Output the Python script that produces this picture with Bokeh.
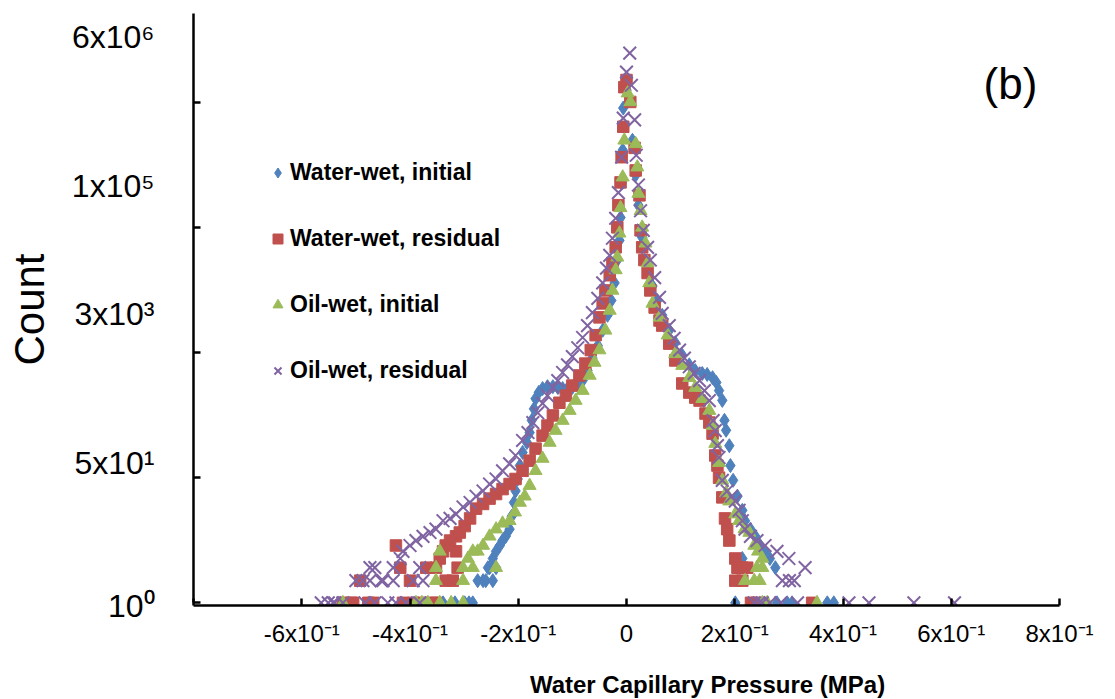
from bokeh.plotting import figure
from bokeh.models import (Range1d, FixedTicker, Legend, LegendItem, Label, LogAxis, LogScale)
from bokeh.embed import file_html
from bokeh.resources import INLINE

# ---------------- data ----------------
SERIES_NAMES = ["Water-wet, initial", "Water-wet, residual", "Oil-wet, initial", "Oil-wet, residual"]
SERIES_COLORS = ["#4F81BD", "#C0504D", "#9BBB59", "#8064A2"]

# Water-wet, initial
WW_INIT_X = [-0.339, -0.317, -0.299, -0.291, -0.284, -0.275, -0.265, -0.260, -0.256, -0.253,
             -0.247, -0.247, -0.241, -0.241, -0.234, -0.229, -0.223, -0.216, -0.212, -0.208,
             -0.205, -0.201, -0.197, -0.192, -0.184, -0.179, -0.175, -0.171, -0.168, -0.162,
             -0.155, -0.146, -0.136, -0.127, -0.118, -0.109, -0.100, -0.090, -0.081, -0.072,
             -0.063, -0.053, -0.044, -0.035, -0.028, -0.022, -0.017, -0.013, -0.011, -0.009,
             -0.007, -0.006, 0.000,
             0.006, 0.011, 0.017, 0.022, 0.029, 0.039, 0.048, 0.057, 0.066, 0.079,
             0.090, 0.103, 0.116, 0.127, 0.140, 0.149, 0.159, 0.166, 0.171, 0.177,
             0.181, 0.184, 0.190, 0.192, 0.197, 0.205, 0.214, 0.219, 0.229, 0.238,
             0.247, 0.256, 0.265, 0.275, 0.214, 0.201, 0.278, 0.297, 0.306, 0.371, 0.383]
WW_INIT_COUNT = [1, 1, 1, 1, 1, 2, 2, 2, 3, 3,
                 4, 2, 5, 3, 6, 7, 8, 10, 15, 23,
                 33, 48, 73, 110, 150, 205, 300, 430, 590, 720,
                 810, 860, 860, 840, 810, 810, 840, 890, 1040, 1420,
                 2100, 3100, 5000, 8000, 12700, 22000, 45000, 83000, 170000, 500000,
                 1400000, 5200000, 9100000,
                 6700000, 1900000, 640000, 250000, 91000, 42000, 20000, 12700, 8000, 5000,
                 3400, 2300, 1700, 1420, 1300, 1260, 1140, 980, 760, 560,
                 300, 220, 136, 73, 46, 28, 18, 13, 10, 8,
                 6, 5, 4, 3, 4, 1, 1, 1, 1, 1, 1]

# Water-wet, residual
WW_RES_X = [-0.524, -0.509, -0.505, -0.492, -0.477, -0.468, -0.426, -0.418, -0.413, -0.400,
            -0.394, -0.376, -0.370, -0.358, -0.352, -0.352, -0.345, -0.339, -0.334, -0.334,
            -0.326, -0.321, -0.315, -0.315, -0.312, -0.308, -0.299,
            -0.289, -0.278, -0.265, -0.253, -0.241, -0.229, -0.216, -0.205, -0.192, -0.179,
            -0.168, -0.155, -0.146, -0.136, -0.124, -0.112, -0.100, -0.087, -0.076, -0.066,
            -0.057, -0.050, -0.044, -0.039, -0.031, -0.026, -0.020, -0.017, -0.015, -0.011,
            -0.009, -0.006, -0.004, 0.000,
            0.007, 0.015, 0.017, 0.024, 0.026, 0.029, 0.033, 0.039, 0.044, 0.052,
            0.061, 0.066, 0.079, 0.090, 0.103, 0.116, 0.127, 0.135, 0.146, 0.153,
            0.159, 0.164, 0.168, 0.171, 0.177, 0.182, 0.186, 0.190, 0.201, 0.205,
            0.210, 0.214, 0.223, 0.201, 0.214, 0.230, 0.240, 0.343]
WW_RES_COUNT = [1, 1, 1, 2, 1, 1, 6, 3, 1, 2,
                1, 1, 3, 1, 3, 1, 4, 5, 6, 2,
                7, 2, 8, 5, 3, 9, 11,
                14, 19, 22, 26, 30, 35, 41, 48, 62, 85,
                124, 186, 255, 350, 520, 650, 890, 1220, 1770, 2700,
                4300, 7500, 11600, 17400, 28000, 41000, 67000, 125000, 250000, 510000,
                1120000, 2900000, 10000000, 12500000,
                6300000, 1500000, 740000, 340000, 114000, 67000, 45000, 30000, 17400, 10200,
                6800, 5800, 3300, 1950, 950, 715, 611, 557, 371, 280,
                198, 100, 73, 50, 27, 14, 10, 7, 4, 3,
                3, 3, 3, 2, 2, 1, 1, 1]

# Oil-wet, initial
OW_INIT_X = [-0.524, -0.389, -0.378, -0.367, -0.352, -0.352, -0.345, -0.345, -0.324, -0.302,
             -0.302, -0.302, -0.293, -0.284, -0.284, -0.275, -0.265, -0.253, -0.241, -0.241,
             -0.229, -0.216, -0.206, -0.197, -0.188, -0.179, -0.168, -0.155, -0.142, -0.131,
             -0.118, -0.105, -0.094, -0.081, -0.068, -0.059, -0.050, -0.039, -0.031, -0.026,
             -0.020, -0.017, -0.013, -0.011, -0.007, -0.004,
             0.002, 0.007, 0.017, 0.020, 0.022, 0.026, 0.029, 0.035, 0.039, 0.042,
             0.048, 0.061, 0.076, 0.090, 0.103, 0.116, 0.127, 0.140, 0.153, 0.159,
             0.164, 0.171, 0.177, 0.184, 0.190, 0.201, 0.208, 0.218, 0.227, 0.236,
             0.243, 0.251, 0.241, 0.251, 0.219, 0.236, 0.246, 0.251, 0.260, 0.352]
OW_INIT_COUNT = [1, 1, 1, 1, 3, 2, 5, 1, 1, 3,
                 2, 1, 4, 5, 3, 5, 6, 8, 10, 3,
                 12, 13, 17, 23, 28, 39, 62, 91, 150, 218,
                 298, 407, 557, 760, 1220, 1830, 2700, 5000, 9300, 17400,
                 33000, 49000, 104000, 230000, 600000, 1900000,
                 8300000, 6300000, 1700000, 820000, 360000, 210000, 125000, 76000, 41000, 22000,
                 11600, 7500, 4300, 2400, 1660, 1140, 836, 590, 407, 255,
                 145, 80, 46, 31, 24, 16, 13, 10, 9, 6,
                 5, 4, 3, 3, 2, 2, 2, 1, 1, 1]

# Oil-wet, residual
OW_RES_X = [-0.564, -0.551, -0.542, -0.539, -0.524, -0.500, -0.487, -0.483, -0.474, -0.474,
            -0.465, -0.465, -0.453, -0.450, -0.441, -0.431, -0.431, -0.426, -0.418, -0.413,
            -0.407, -0.400, -0.394, -0.389, -0.382, -0.382, -0.376, -0.376, -0.363, -0.352,
            -0.339, -0.326, -0.315, -0.302, -0.289, -0.278, -0.265, -0.253, -0.241, -0.229,
            -0.216, -0.205, -0.192, -0.182, -0.173, -0.164, -0.155, -0.146, -0.136, -0.127,
            -0.118, -0.109, -0.100, -0.090, -0.081, -0.072, -0.063, -0.053, -0.044, -0.037,
            -0.031, -0.026, -0.020, -0.015, -0.009, -0.006, 0.000,
            0.006, 0.009, 0.015, 0.018, 0.022, 0.026, 0.031, 0.039, 0.044, 0.052,
            0.061, 0.066, 0.079, 0.088, 0.098, 0.107, 0.116, 0.125, 0.135, 0.144,
            0.153, 0.160, 0.164, 0.168, 0.171, 0.177, 0.186, 0.194, 0.201, 0.208,
            0.214, 0.219, 0.229, 0.241, 0.256, 0.278, 0.300, 0.330, 0.288, 0.301,
            0.310, 0.236, 0.245, 0.251, 0.265, 0.285, 0.316, 0.411, 0.448, 0.531, 0.606]
OW_RES_COUNT = [1, 1, 1, 1, 1, 2, 2, 1, 3, 2,
                3, 1, 2, 2, 1, 3, 2, 1, 4, 5,
                1, 6, 2, 7, 1, 3, 8, 2, 9, 10,
                13, 14, 16, 20, 23, 28, 33, 41, 48, 62,
                77, 100, 160, 205, 280, 380, 510, 650, 840, 1040,
                1340, 1700, 2200, 2900, 4000, 5800, 8700, 13600, 22000, 35000,
                52000, 89000, 166000, 370000, 1120000, 3800000, 16000000,
                29000000, 10600000, 3600000, 1190000, 470000, 210000, 114000, 67000, 45000, 26000,
                14000, 8500, 5800, 3900, 2700, 2100, 1600, 1300, 1040, 760,
                557, 298, 218, 136, 94, 46, 33, 28, 24, 18,
                13, 10, 8, 7, 6, 5, 4, 3, 2, 2,
                2, 1, 1, 1, 1, 1, 1, 1, 1, 1, 1]

X_TICKS = [-0.8, -0.6, -0.4, -0.2, 0, 0.2, 0.4, 0.6, 0.8]
X_TICK_LABELS = ["", "-6x10\u207b\u00b9", "-4x10\u207b\u00b9", "-2x10\u207b\u00b9", "0",
                 "2x10\u207b\u00b9", "4x10\u207b\u00b9", "6x10\u207b\u00b9", "8x10\u207b\u00b9"]
Y_TICKS = [1, 50, 2500, 125000, 6250000]                 # tick marks of the count axis
Y_LABEL_VALUES = [1, 50, 3000, 100000, 6000000]          # values written beside it
Y_TICK_LABELS = ["10\u2070", "5x10\u00b9", "3x10\u00b3", "1x10\u2075", "6x10\u2076"]
X_TITLE = "Water Capillary Pressure (MPa)"
Y_TITLE = "Count"
PANEL_TAG = "(b)"

# ---------------- styling / layout ----------------
FONT = "Liberation Sans"

p = figure(width=1115, height=699, x_range=Range1d(-0.8, 0.8), y_range=Range1d(0.92, 1e8),
           y_axis_type="log", output_backend="svg", toolbar_location=None,
           min_border_left=193, min_border_right=56, min_border_top=13, min_border_bottom=94)
p.xgrid.grid_line_color = None
p.ygrid.grid_line_color = None
p.outline_line_color = None
p.background_fill_color = "white"

xa = p.xaxis[0]
xa.ticker = FixedTicker(ticks=X_TICKS)
xa.major_label_overrides = dict(zip(X_TICKS, X_TICK_LABELS))
xa.bounds = (-0.8, 0.8)
xa.major_tick_in = 7
xa.major_tick_out = 0
xa.minor_tick_line_color = None
xa.axis_line_width = 2.5
xa.major_tick_line_width = 2.5
xa.axis_line_color = "black"
xa.major_tick_line_color = "black"
xa.major_label_text_font = FONT
xa.major_label_text_font_size = "24px"
xa.major_label_text_color = "black"
xa.major_label_standoff = 14

# inner count axis: line and inward tick marks
ya = p.yaxis[0]
ya.ticker = FixedTicker(ticks=Y_TICKS)
ya.major_label_overrides = {t: "" for t in Y_TICKS}
ya.bounds = (1, 1e8)
ya.major_tick_in = 7
ya.major_tick_out = 0
ya.minor_tick_line_color = None
ya.axis_line_width = 2.5
ya.major_tick_line_width = 2.5
ya.axis_line_color = "black"
ya.major_tick_line_color = "black"
ya.major_label_standoff = 0

# outer axis carrying the written values, placed as in the source figure
p.extra_y_ranges = {"labels": Range1d(1, 1.146e7)}
p.extra_y_scales = {"labels": LogScale()}
la = LogAxis(y_range_name="labels", ticker=FixedTicker(ticks=Y_LABEL_VALUES))
la.major_label_overrides = dict(zip(Y_LABEL_VALUES, Y_TICK_LABELS))
la.axis_line_color = None
la.major_tick_line_color = None
la.minor_tick_line_color = None
la.major_tick_in = 0
la.major_tick_out = 0
la.major_label_standoff = 39
la.major_label_text_font = FONT
la.major_label_text_font_size = "32px"
la.major_label_text_color = "black"
la.axis_label = Y_TITLE
la.axis_label_text_font = FONT
la.axis_label_text_font_style = "normal"
la.axis_label_text_font_size = "42px"
la.axis_label_text_color = "black"
la.axis_label_standoff = 16
p.add_layout(la, "left")

r_ww_init = p.scatter(WW_INIT_X, WW_INIT_COUNT, marker="diamond", size=14,
                      fill_color=SERIES_COLORS[0], line_color=SERIES_COLORS[0])
r_ww_res = p.scatter(WW_RES_X, WW_RES_COUNT, marker="square", size=11.5,
                     fill_color=SERIES_COLORS[1], line_color=SERIES_COLORS[1])
r_ow_init = p.scatter(OW_INIT_X, OW_INIT_COUNT, marker="triangle", size=13,
                      fill_color=SERIES_COLORS[2], line_color=SERIES_COLORS[2])
r_ow_res = p.scatter(OW_RES_X, OW_RES_COUNT, marker="x", size=18,
                     line_color=SERIES_COLORS[3], line_width=2)

legend = Legend(items=[LegendItem(label=n, renderers=[r]) for n, r in
                       zip(SERIES_NAMES, [r_ww_init, r_ww_res, r_ow_init, r_ow_res])],
                location=(72, 221), orientation="vertical",
                glyph_width=25, glyph_height=25, label_height=25, spacing=39,
                padding=0, margin=0, label_standoff=0,
                border_line_color=None, background_fill_alpha=0,
                label_text_font=FONT, label_text_font_style="bold",
                label_text_font_size="23px", label_text_color="black")
p.add_layout(legend)

# x-axis title, anchored on the axis (x = 0, count = 1) and shifted as in the source
p.add_layout(Label(x=0, y=1, x_units="data", y_units="data", x_offset=81, y_offset=-82,
                   text=X_TITLE, text_align="center", text_baseline="middle", text_font=FONT,
                   text_font_style="bold", text_font_size="24px", text_color="black"), "below")
p.add_layout(Label(x=817, y=522, x_units="screen", y_units="screen", text=PANEL_TAG,
                   text_align="center", text_baseline="middle", text_font=FONT,
                   text_font_size="44px", text_color="black"))

open("out.html", "w").write(file_html(p, INLINE))
